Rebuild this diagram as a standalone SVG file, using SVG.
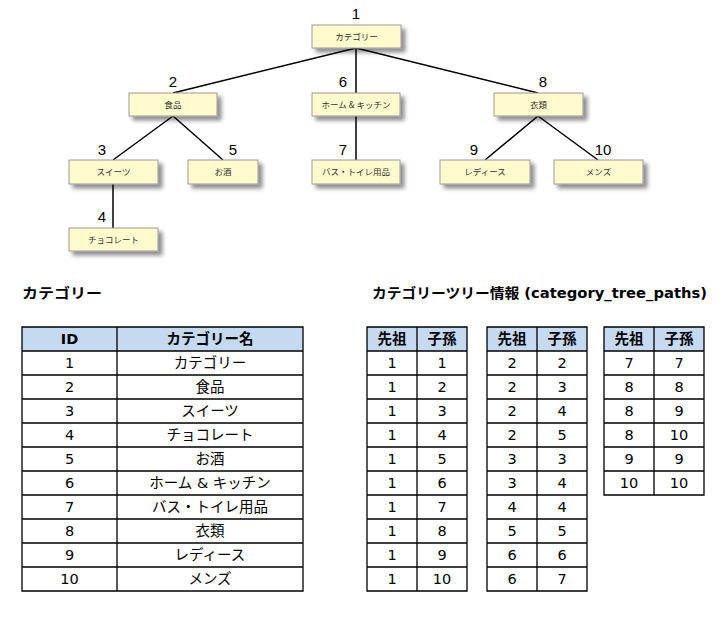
<svg xmlns="http://www.w3.org/2000/svg" width="725" height="625" viewBox="0 0 725 625">
<style>
.box{fill:#FFFBCC;stroke:#999;stroke-width:1}
.nt{font-family:"Noto Sans CJK JP",sans-serif;font-size:8.5px;fill:#333;text-anchor:middle}
.num{font-family:"Liberation Sans",Arial,sans-serif;font-size:15px;fill:#000;text-anchor:middle}
.edge{stroke:#000;stroke-width:1.5;fill:none}
.h{font-family:"DejaVu Sans","Noto Sans CJK JP",sans-serif;font-size:14px;font-weight:bold;fill:#000}
.th{font-family:"DejaVu Sans","Noto Sans CJK JP",sans-serif;font-size:14.5px;font-weight:bold;fill:#000;text-anchor:middle}
.td{font-family:"DejaVu Sans","Noto Sans CJK JP",sans-serif;font-size:14.5px;fill:#000;text-anchor:middle}
.hdr{fill:#C5D9F1}
.grid{stroke:#000;stroke-width:1.3;fill:none}
</style>
<defs>
<filter id="sh" x="-20%" y="-30%" width="150%" height="190%">
<feGaussianBlur in="SourceAlpha" stdDeviation="2"/>
<feOffset dx="4" dy="4" result="b"/>
<feComponentTransfer><feFuncA type="linear" slope="0.45"/></feComponentTransfer>
<feMerge><feMergeNode/><feMergeNode in="SourceGraphic"/></feMerge>
</filter>
</defs>
<rect width="725" height="625" fill="#fff"/>

<g id="connectors">
<path class="edge" d="M356 48 L173 93 M356 48 L356 93 M356 48 L538 93"/>
<path class="edge" d="M173 116 L113 160 M173 116 L223 160"/>
<path class="edge" d="M356 116 L356 160"/>
<path class="edge" d="M538 116 L485 160 M538 116 L598 160"/>
<path class="edge" d="M113 184 L113 228"/>
</g>

<g id="node1"><rect class="box" x="312" y="25" width="89" height="23" filter="url(#sh)"/><text class="nt" x="356.5" y="39.5">カテゴリー</text><text class="num" x="356" y="19">1</text></g>
<g id="node2"><rect class="box" x="129" y="93" width="88" height="23" filter="url(#sh)"/><text class="nt" x="173" y="107.5">食品</text><text class="num" x="173" y="87">2</text></g>
<g id="node6"><rect class="box" x="312" y="93" width="88" height="23" filter="url(#sh)"/><text class="nt" x="356" y="107.5">ホーム &amp; キッチン</text><text class="num" x="343" y="87">6</text></g>
<g id="node8"><rect class="box" x="494" y="93" width="89" height="23" filter="url(#sh)"/><text class="nt" x="538.5" y="107.5">衣類</text><text class="num" x="543" y="87">8</text></g>
<g id="node3"><rect class="box" x="69" y="160" width="89" height="24" filter="url(#sh)"/><text class="nt" x="113.5" y="175">スイーツ</text><text class="num" x="102" y="155">3</text></g>
<g id="node5"><rect class="box" x="188" y="160" width="70" height="24" filter="url(#sh)"/><text class="nt" x="223" y="175">お酒</text><text class="num" x="233" y="155">5</text></g>
<g id="node7"><rect class="box" x="312" y="160" width="88" height="24" filter="url(#sh)"/><text class="nt" x="356" y="175">バス・トイレ用品</text><text class="num" x="343" y="155">7</text></g>
<g id="node9"><rect class="box" x="440" y="160" width="90" height="24" filter="url(#sh)"/><text class="nt" x="485" y="175">レディース</text><text class="num" x="474" y="155">9</text></g>
<g id="node10"><rect class="box" x="554" y="160" width="89" height="24" filter="url(#sh)"/><text class="nt" x="598.5" y="175">メンズ</text><text class="num" x="603" y="155">10</text></g>
<g id="node4"><rect class="box" x="69" y="228" width="89" height="23" filter="url(#sh)"/><text class="nt" x="113.5" y="242.5">チョコレート</text><text class="num" x="102" y="222">4</text></g>

<text class="h" x="22" y="298" textLength="80" lengthAdjust="spacingAndGlyphs">カテゴリー</text>
<text class="h" x="372" y="298" textLength="335" lengthAdjust="spacingAndGlyphs">カテゴリーツリー情報 (category_tree_paths)</text>

<g id="table-categories">
<rect class="hdr" x="22" y="327" width="281" height="24"/>
<path class="grid" d="M22 327H303V591H22Z M117 327V591 M22 351H303 M22 375H303 M22 399H303 M22 423H303 M22 447H303 M22 471H303 M22 495H303 M22 519H303 M22 543H303 M22 567H303"/>
<text class="th" x="69.5" y="344">ID</text><text class="th" x="210" y="344">カテゴリー名</text>
<text class="td" x="69.5" y="368">1</text><text class="td" x="210" y="368">カテゴリー</text>
<text class="td" x="69.5" y="392">2</text><text class="td" x="210" y="392">食品</text>
<text class="td" x="69.5" y="416">3</text><text class="td" x="210" y="416">スイーツ</text>
<text class="td" x="69.5" y="440">4</text><text class="td" x="210" y="440">チョコレート</text>
<text class="td" x="69.5" y="464">5</text><text class="td" x="210" y="464">お酒</text>
<text class="td" x="69.5" y="488">6</text><text class="td" x="210" y="488">ホーム &amp; キッチン</text>
<text class="td" x="69.5" y="512">7</text><text class="td" x="210" y="512">バス・トイレ用品</text>
<text class="td" x="69.5" y="536">8</text><text class="td" x="210" y="536">衣類</text>
<text class="td" x="69.5" y="560">9</text><text class="td" x="210" y="560">レディース</text>
<text class="td" x="69.5" y="584">10</text><text class="td" x="210" y="584">メンズ</text>
</g>

<g id="table-paths-a">
<rect class="hdr" x="367" y="327" width="100" height="24"/>
<path class="grid" d="M367 327H467V591H367Z M417 327V591 M367 351H467 M367 375H467 M367 399H467 M367 423H467 M367 447H467 M367 471H467 M367 495H467 M367 519H467 M367 543H467 M367 567H467"/>
<text class="th" x="392" y="344">先祖</text><text class="th" x="442" y="344">子孫</text>
<text class="td" x="392" y="368">1</text><text class="td" x="442" y="368">1</text>
<text class="td" x="392" y="392">1</text><text class="td" x="442" y="392">2</text>
<text class="td" x="392" y="416">1</text><text class="td" x="442" y="416">3</text>
<text class="td" x="392" y="440">1</text><text class="td" x="442" y="440">4</text>
<text class="td" x="392" y="464">1</text><text class="td" x="442" y="464">5</text>
<text class="td" x="392" y="488">1</text><text class="td" x="442" y="488">6</text>
<text class="td" x="392" y="512">1</text><text class="td" x="442" y="512">7</text>
<text class="td" x="392" y="536">1</text><text class="td" x="442" y="536">8</text>
<text class="td" x="392" y="560">1</text><text class="td" x="442" y="560">9</text>
<text class="td" x="392" y="584">1</text><text class="td" x="442" y="584">10</text>
</g>

<g id="table-paths-b">
<rect class="hdr" x="487" y="327" width="100" height="24"/>
<path class="grid" d="M487 327H587V591H487Z M537 327V591 M487 351H587 M487 375H587 M487 399H587 M487 423H587 M487 447H587 M487 471H587 M487 495H587 M487 519H587 M487 543H587 M487 567H587"/>
<text class="th" x="512" y="344">先祖</text><text class="th" x="562" y="344">子孫</text>
<text class="td" x="512" y="368">2</text><text class="td" x="562" y="368">2</text>
<text class="td" x="512" y="392">2</text><text class="td" x="562" y="392">3</text>
<text class="td" x="512" y="416">2</text><text class="td" x="562" y="416">4</text>
<text class="td" x="512" y="440">2</text><text class="td" x="562" y="440">5</text>
<text class="td" x="512" y="464">3</text><text class="td" x="562" y="464">3</text>
<text class="td" x="512" y="488">3</text><text class="td" x="562" y="488">4</text>
<text class="td" x="512" y="512">4</text><text class="td" x="562" y="512">4</text>
<text class="td" x="512" y="536">5</text><text class="td" x="562" y="536">5</text>
<text class="td" x="512" y="560">6</text><text class="td" x="562" y="560">6</text>
<text class="td" x="512" y="584">6</text><text class="td" x="562" y="584">7</text>
</g>

<g id="table-paths-c">
<rect class="hdr" x="604" y="327" width="100" height="24"/>
<path class="grid" d="M604 327H704V495H604Z M654 327V495 M604 351H704 M604 375H704 M604 399H704 M604 423H704 M604 447H704 M604 471H704"/>
<text class="th" x="629" y="344">先祖</text><text class="th" x="679" y="344">子孫</text>
<text class="td" x="629" y="368">7</text><text class="td" x="679" y="368">7</text>
<text class="td" x="629" y="392">8</text><text class="td" x="679" y="392">8</text>
<text class="td" x="629" y="416">8</text><text class="td" x="679" y="416">9</text>
<text class="td" x="629" y="440">8</text><text class="td" x="679" y="440">10</text>
<text class="td" x="629" y="464">9</text><text class="td" x="679" y="464">9</text>
<text class="td" x="629" y="488">10</text><text class="td" x="679" y="488">10</text>
</g>
</svg>
